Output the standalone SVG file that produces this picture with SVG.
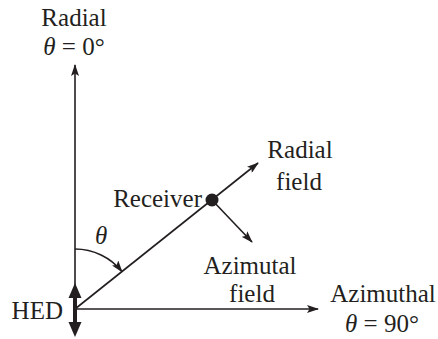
<svg xmlns="http://www.w3.org/2000/svg" width="438" height="339" viewBox="0 0 438 339">
<style>
text{font-family:"Liberation Serif","Times New Roman",serif;font-size:25px;fill:#231f20}
.it{font-style:italic}
.ln{stroke:#231f20;stroke-width:1.6;fill:none}
</style>
<defs>
<marker id="ah" viewBox="0 0 12 8" refX="11" refY="4" markerWidth="12" markerHeight="8" markerUnits="userSpaceOnUse" orient="auto">
<path d="M0,0 L12,4 L0,8 L2.5,4 Z" fill="#231f20"/>
</marker>
</defs>
<g id="connectors">
<line class="ln" x1="75" y1="309" x2="75" y2="65" marker-end="url(#ah)"/>
<line class="ln" x1="75" y1="309" x2="318" y2="309" marker-end="url(#ah)"/>
<line class="ln" x1="75" y1="309" x2="258" y2="163" marker-end="url(#ah)"/>
<line class="ln" x1="212" y1="200" x2="252" y2="242" marker-end="url(#ah)"/>
<path class="ln" d="M75,249 A60,60 0 0 1 122,271.6" marker-end="url(#ah)"/>
</g>
<g id="hed">
<line x1="75" y1="294" x2="75" y2="326" stroke="#231f20" stroke-width="4"/>
<path d="M75,283 L81.5,298 L68.5,298 Z" fill="#231f20"/>
<path d="M75,337 L81.5,322 L68.5,322 Z" fill="#231f20"/>
<text x="63" y="319" text-anchor="end">HED</text>
</g>
<g id="receiver">
<circle cx="212" cy="200" r="6.5" fill="#231f20"/>
<text x="202" y="207" text-anchor="end">Receiver</text>
</g>
<g id="radial-axis">
<text x="74" y="26" text-anchor="middle">Radial</text>
<text x="74" y="55" text-anchor="middle"><tspan class="it">θ</tspan> = 0°</text>
</g>
<g id="azimuthal-axis">
<text x="383" y="302" text-anchor="middle">Azimuthal</text>
<text x="382" y="332" text-anchor="middle"><tspan class="it">θ</tspan> = 90°</text>
</g>
<g id="radial-field">
<text x="300" y="158" text-anchor="middle">Radial</text>
<text x="299" y="190" text-anchor="middle">field</text>
</g>
<g id="azimutal-field">
<text x="250" y="274" text-anchor="middle">Azimutal</text>
<text x="252" y="302" text-anchor="middle">field</text>
</g>
<g id="theta-label">
<text class="it" x="95" y="244">θ</text>
</g>
</svg>
